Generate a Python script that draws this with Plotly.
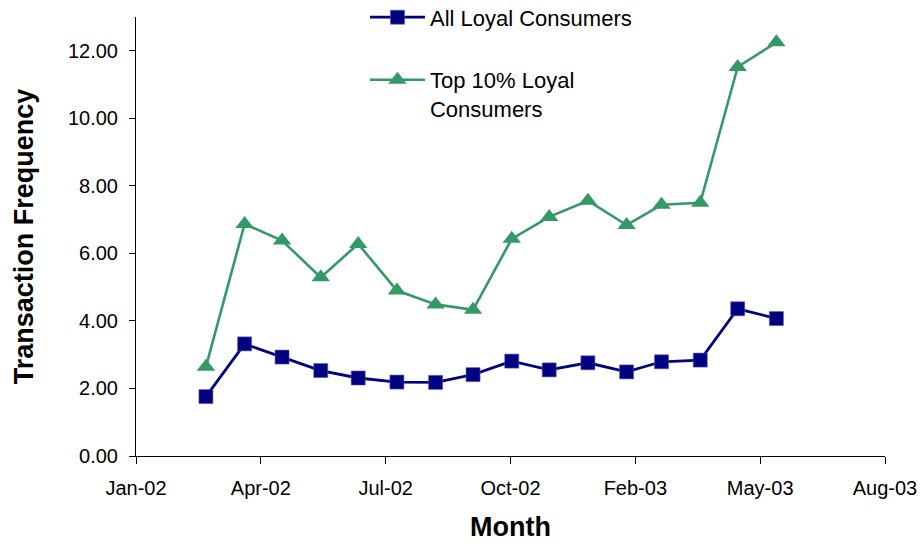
import pandas as pd
import plotly.graph_objects as go

# Monthly observation dates (month end), Feb 2002 - May 2003
months = pd.date_range("2002-02-28", "2003-05-31", freq="ME")

all_loyal = [1.76, 3.32, 2.93, 2.53, 2.31, 2.19, 2.18, 2.41,
             2.81, 2.55, 2.76, 2.49, 2.79, 2.84, 4.36, 4.07]
top10_loyal = [2.64, 6.87, 6.38, 5.29, 6.28, 4.90, 4.49, 4.33,
               6.43, 7.08, 7.56, 6.84, 7.44, 7.50, 11.52, 12.25]

series_names = ["All Loyal Consumers", "Top 10% Loyal<br>Consumers"]

x_start = "2002-01-03"
x_end = "2003-08-26"
day_ms = 86400000

fig = go.Figure()
fig.add_trace(go.Scatter(
    x=months, y=all_loyal, name=series_names[0], mode="lines+markers",
    line=dict(color="#000080", width=2.8),
    marker=dict(symbol="square", size=14, color="#000080",
                line=dict(color="#5a5aa8", width=0.6)),
    legendgroup="a",
))
fig.add_trace(go.Scatter(
    x=months, y=top10_loyal, name=series_names[1], mode="lines+markers",
    line=dict(color="#339966", width=2.6),
    marker=dict(symbol="triangle-up", size=16, color="#339966",
                line=dict(color="#339966", width=0)),
    legendgroup="b",
))

font_family = "Liberation Sans, Arial, sans-serif"

fig.update_layout(
    width=921, height=543,
    margin=dict(l=136, r=36, t=17, b=87, autoexpand=False),
    paper_bgcolor="white", plot_bgcolor="white",
    font=dict(family=font_family, color="black", size=20),
    showlegend=True,
    legend=dict(
        x=0.3057, y=1.047, xanchor="left", yanchor="top",
        font=dict(size=22, family=font_family),
        bgcolor="rgba(0,0,0,0)", valign="top",
        tracegroupgap=31, itemwidth=55,
    ),
    xaxis=dict(
        type="date", range=[x_start, x_end], automargin=False,
        tick0=x_start, dtick=100 * day_ms, tickformat="%b-%y",
        showgrid=False, zeroline=False,
        showline=True, linecolor="black", linewidth=1,
        ticks="outside", ticklen=7, tickcolor="black",
        tickfont=dict(size=20), ticklabelstandoff=7,
        title=dict(text="<b>Month</b>", font=dict(size=27), standoff=19),
    ),
    yaxis=dict(
        range=[0, 13], tick0=0, dtick=2, tickformat=".2f", automargin=False,
        showgrid=False, zeroline=False,
        showline=True, linecolor="black", linewidth=1,
        ticks="outside", ticklen=6, tickcolor="black",
        tickfont=dict(size=20), ticklabelstandoff=7,
        title=dict(text="<b>Transaction Frequency</b>", font=dict(size=27), standoff=26),
    ),
)

fig.write_html("out.html")
